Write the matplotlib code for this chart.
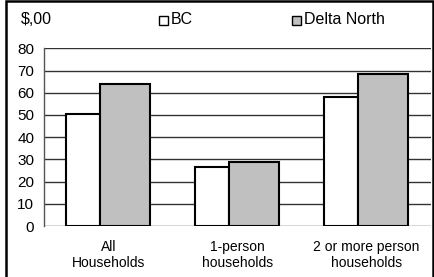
import matplotlib.pyplot as plt
from matplotlib.patches import Rectangle
import numpy as np

categories = ["All\nHouseholds", "1-person\nhouseholds", "2 or more person\nhouseholds"]
bc_values = [50.5, 26.5, 58.3]
delta_values = [63.9, 28.6, 68.3]
y_ticks = [0, 10, 20, 30, 40, 50, 60, 70, 80]

plt.rcParams["font.family"] = ["Liberation Sans", "DejaVu Sans"]

fig = plt.figure(figsize=(4.35, 2.77), dpi=100)
ax = fig.add_axes([44 / 435, 1 - 226 / 277, 387 / 435, 177.7 / 277])

x = np.arange(len(categories))
w_bc = 34 / 129
w_dn = 50 / 129
start = -(w_bc + w_dn) / 2

ax.bar(x + start, bc_values, width=w_bc, align="edge", color="white",
       edgecolor="black", linewidth=1.5, zorder=3)
ax.bar(x + start + w_bc, delta_values, width=w_dn, align="edge", color="#c0c0c0",
       edgecolor="black", linewidth=1.5, zorder=3)

ax.set_xlim(-0.5, len(categories) - 0.5)
ax.set_ylim(0, 80)
ax.set_yticks(y_ticks)
ax.set_yticklabels([str(t) for t in y_ticks], fontsize=11)
ax.set_xticks(x)
ax.set_xticklabels(categories, fontsize=10, linespacing=1.15)
ax.tick_params(axis="y", length=0, pad=7)
ax.tick_params(axis="x", length=0, pad=10)
ax.yaxis.grid(True, color="#333333", linewidth=1, zorder=0)
ax.set_axisbelow(True)
for s in ["top", "right", "bottom"]:
    ax.spines[s].set_visible(False)
ax.spines["left"].set_linewidth(1)
ax.spines["left"].set_color("#555555")

# title row and legend
fig.text(21 / 435, 1 - 20 / 277, "$,00", fontsize=11.5, va="center", ha="left")
fig.patches.append(Rectangle((159 / 435, 1 - 25 / 277), 9 / 435, 9 / 277,
                             transform=fig.transFigure, facecolor="white",
                             edgecolor="black", linewidth=1))
fig.text(171 / 435, 1 - 20 / 277, "BC", fontsize=11.5, va="center", ha="left")
fig.patches.append(Rectangle((292 / 435, 1 - 25 / 277), 9 / 435, 9 / 277,
                             transform=fig.transFigure, facecolor="#c0c0c0",
                             edgecolor="black", linewidth=1))
fig.text(304 / 435, 1 - 20 / 277, "Delta North", fontsize=11.5, va="center", ha="left")

# outer frame
fig.patches.append(Rectangle((6 / 435, -0.05), 427 / 435, 1.05 - 0.5 / 277,
                             transform=fig.transFigure, fill=False,
                             edgecolor="black", linewidth=1.8))

fig.savefig("out.png", dpi=100)
